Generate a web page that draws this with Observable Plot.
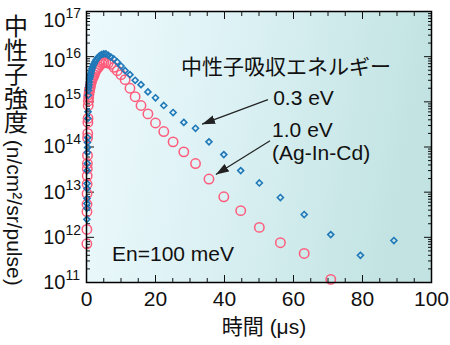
<!DOCTYPE html>
<html>
<head>
<meta charset="utf-8">
<script src="https://cdn.jsdelivr.net/npm/d3@7"></script>
<script src="https://cdn.jsdelivr.net/npm/@observablehq/plot@0.6"></script>
<style>
  body { margin: 0; background: #fff; }
  #chart { width: 450px; height: 345px; position: relative; }
  svg { overflow: visible; }
</style>
</head>
<body>
<div id="chart"></div>
<script>
// time bins (μs)
const time = [0.1, 0.112, 0.126, 0.141, 0.158, 0.178, 0.2, 0.224, 0.251, 0.282,
  0.316, 0.355, 0.398, 0.447, 0.501, 0.562, 0.631, 0.708, 0.794, 0.891,
  1.0, 1.12, 1.26, 1.41, 1.58, 1.78, 2.0, 2.24, 2.51, 2.82,
  3.16, 3.55, 3.98, 4.47, 5.01, 5.62, 6.31, 7.08, 7.94, 8.91,
  10.0, 11.2, 12.6, 14.1, 15.8, 17.8, 20.0, 22.4, 25.1, 28.2,
  31.6, 35.5, 39.8, 44.7, 50.1, 56.2, 63.1, 70.8, 79.4, 89.1];

// 0.3 eV absorption energy (blue diamonds)
const flux03 = [2.5e12, 5.6e12, 4.4e12, 7.2e12, 1.2e13, 1.55e13, 3.0e13, 4.3e13, 7.6e13, 1.26e14,
  9.8e13, 1.6e14, 4.3e14, 6.0e14, 1.4e15, 1.8e15, 2.1e15, 2.4e15, 2.75e15, 3.2e15,
  3.5e15, 3.8e15, 4.3e15, 4.8e15, 5.4e15, 5.9e15, 6.5e15, 7.1e15, 7.8e15, 8.5e15,
  9.3e15, 1.0e16, 1.07e16, 1.12e16, 1.15e16, 1.15e16, 1.07e16, 9.8e15, 8.9e15, 7.6e15,
  6.2e15, 4.9e15, 4.0e15, 3.0e15, 2.4e15, 1.66e15, 1.23e15, 8.3e14, 5.8e14, 3.5e14,
  2.6e14, 1.3e14, 6.8e13, 3.0e13, 1.6e13, 7.6e12, 3.2e12, 1.15e12, 4.0e11, 8.5e11];

// 1.0 eV absorption energy, Ag-In-Cd (red circles)
const flux10 = [7.2e11, 1.5e12, 3.7e12, 5.4e12, 9.3e12, 1.5e13, 2.3e13, 3.3e13, 4.3e13, 6.5e13,
  1.6e14, 2.0e14, 3.5e14, 4.3e14, 8.3e14, 1.05e15, 1.26e15, 1.45e15, 1.66e15, 1.86e15,
  2.0e15, 2.2e15, 2.5e15, 2.8e15, 3.1e15, 3.4e15, 3.6e15, 4.0e15, 4.5e15, 5.0e15,
  5.5e15, 6.0e15, 6.6e15, 7.1e15, 7.4e15, 7.4e15, 7.2e15, 6.8e15, 5.8e15, 4.9e15,
  4.0e15, 3.1e15, 2.0e15, 1.3e15, 8.3e14, 5.4e14, 3.4e14, 2.2e14, 1.3e14, 7.8e13,
  4.3e13, 1.95e13, 7.9e12, 3.9e12, 1.66e12, 7.6e11, 4.4e11, 1.17e11, null, null];

// axis ticks
const xMajorTicks = [0, 20, 40, 60, 80, 100];
const xMinorTicks = [5, 10, 15, 25, 30, 35, 45, 50, 55, 65, 70, 75, 85, 90, 95];
const yMajorTicks = [1e11, 1e12, 1e13, 1e14, 1e15, 1e16, 1e17];
const yMinorTicks = yMajorTicks.slice(0, -1).flatMap(d => [2, 3, 4, 5, 6, 7, 8, 9].map(m => m * d));

// texts
const xLabel = "時間 (μs)";
const yLabelJa = "中性子強度";
const yLabelUnit = " (n/cm²/sr/pulse)";
const noteTexts = ["中性子吸収エネルギー", "0.3 eV", "1.0 eV", "(Ag-In-Cd)", "En=100 meV"];
const noteX = [57.8, 54.1, 53.8, 53.8, 7.4];
const noteY = [5.8e15, 1.23e15, 2.3e14, 7.1e13, 4.2e11];
const noteAnchor = ["middle", "start", "start", "start", "start"];

// annotation arrows (from label to series)
const arrowX1 = [52.6, 53.2];
const arrowY1 = [1.12e15, 1.38e14];
const arrowX2 = [33.5, 37.5];
const arrowY2 = [3.2e14, 2.45e13];

const s03 = time.map((t, i) => ({t, v: flux03[i]})).filter(d => d.v != null);
const s10 = time.map((t, i) => ({t, v: flux10[i]})).filter(d => d.v != null);
const notes = noteTexts.map((text, i) => ({text, x: noteX[i], y: noteY[i], anchor: noteAnchor[i]}));
const arrows = arrowX1.map((x1, i) => ({x1, y1: arrowY1[i], x2: arrowX2[i], y2: arrowY2[i]}));

const blue = "#1f78b8";
const red = "#ff5c7c";
const font = "'Liberation Sans', Arial, 'Noto Sans CJK JP', sans-serif";

// y tick labels "10^n"; the top two sit slightly lower, as in the original
const yLabelGroups = [
  {ticks: yMajorTicks.filter(d => d < 1e16), dy: 0},
  {ticks: yMajorTicks.filter(d => d === 1e16), dy: 4},
  {ticks: yMajorTicks.filter(d => d === 1e17), dy: 9}
];
const yTickLabelMarks = yLabelGroups.flatMap(g => [
  Plot.text(g.ticks, {y: d => d, text: () => "10", frameAnchor: "left", dx: -21, dy: g.dy, textAnchor: "end", lineAnchor: "middle", fontSize: 20}),
  Plot.text(g.ticks, {y: d => d, text: d => String(Math.round(Math.log10(d))), frameAnchor: "left", dx: -21, dy: g.dy - 7, textAnchor: "start", lineAnchor: "middle", fontSize: 14})
]);

const chart = Plot.plot({
  width: 450,
  height: 345,
  marginLeft: 86,
  marginRight: 19,
  marginTop: 11,
  marginBottom: 63,
  style: {fontFamily: font, fontSize: "20px", color: "#111", background: "#fff"},
  x: {domain: [0, 100], label: null},
  y: {type: "log", domain: [1e11, 1e17], label: null},
  marks: [
    Plot.frame({fill: "url(#bg)", stroke: "none"}),
    // inward ticks
    Plot.axisX(xMajorTicks, {anchor: "bottom", tickSize: -7, fill: "none", label: null}),
    Plot.axisX(xMinorTicks, {anchor: "bottom", tickSize: -4, fill: "none", label: null}),
    Plot.axisX(xMajorTicks, {anchor: "top", tickSize: -7, fill: "none", label: null}),
    Plot.axisX(xMinorTicks, {anchor: "top", tickSize: -4, fill: "none", label: null}),
    Plot.axisY(yMajorTicks, {anchor: "left", tickSize: -8, fill: "none", label: null}),
    Plot.axisY(yMinorTicks, {anchor: "left", tickSize: -4, fill: "none", label: null}),
    Plot.axisY(yMajorTicks, {anchor: "right", tickSize: -8, fill: "none", label: null}),
    Plot.axisY(yMinorTicks, {anchor: "right", tickSize: -4, fill: "none", label: null}),
    // x tick labels
    Plot.axisX(xMajorTicks, {anchor: "bottom", tickSize: 0, tickPadding: 9, fontSize: 21, stroke: "none", label: null}),
    ...yTickLabelMarks,
    // x label
    Plot.text([xLabel], {text: d => d, frameAnchor: "bottom", dy: 45, dx: 5, lineAnchor: "middle", fontSize: 21}),
    // data
    Plot.dot(s10, {x: "t", y: "v", r: 4.7, stroke: red, strokeWidth: 1.5, fill: "none"}),
    Plot.dot(s03, {x: "t", y: "v", symbol: "diamond2", r: 2.7, stroke: blue, strokeWidth: 1.6, fill: "none"}),
    Plot.frame({stroke: "#000", strokeWidth: 1.5}),
    // annotations
    Plot.link(arrows, {x1: "x1", y1: "y1", x2: "x2", y2: "y2", stroke: "#222", strokeWidth: 1.2}),
    Plot.text(notes.filter(d => d.anchor === "middle"), {x: "x", y: "y", text: "text", textAnchor: "middle", lineAnchor: "middle", fontSize: 21}),
    Plot.text(notes.filter(d => d.anchor === "start"), {x: "x", y: "y", text: "text", textAnchor: "start", lineAnchor: "middle", fontSize: 21})
  ]
});

const svg = d3.select(chart);
svg.insert("defs", ":first-child").html(`
  <linearGradient id="bg" x1="0" y1="0" x2="1" y2="0.15">
    <stop offset="0" stop-color="#eefafd"/>
    <stop offset="0.45" stop-color="#dcf1f4"/>
    <stop offset="1" stop-color="#c2e3e2"/>
  </linearGradient>
  <marker id="ah" viewBox="0 0 13 9" refX="13" refY="4.5" markerWidth="13" markerHeight="9" markerUnits="userSpaceOnUse" orient="auto">
    <path d="M0,0L13,4.5L0,9Z" fill="#222"/>
  </marker>`);
svg.selectAll('g[aria-label="link"] path').attr("marker-end", "url(#ah)");
const yl = svg.append("text")
  .attr("x", 14).attr("y", 14)
  .attr("text-anchor", "start")
  .style("writing-mode", "vertical-rl")
  .style("font-family", font)
  .attr("fill", "#111");
yl.append("tspan").style("font-size", "24px").text(yLabelJa);
yl.append("tspan").style("font-size", "21px").text(yLabelUnit);

document.getElementById("chart").appendChild(chart);
</script>
</body>
</html>
